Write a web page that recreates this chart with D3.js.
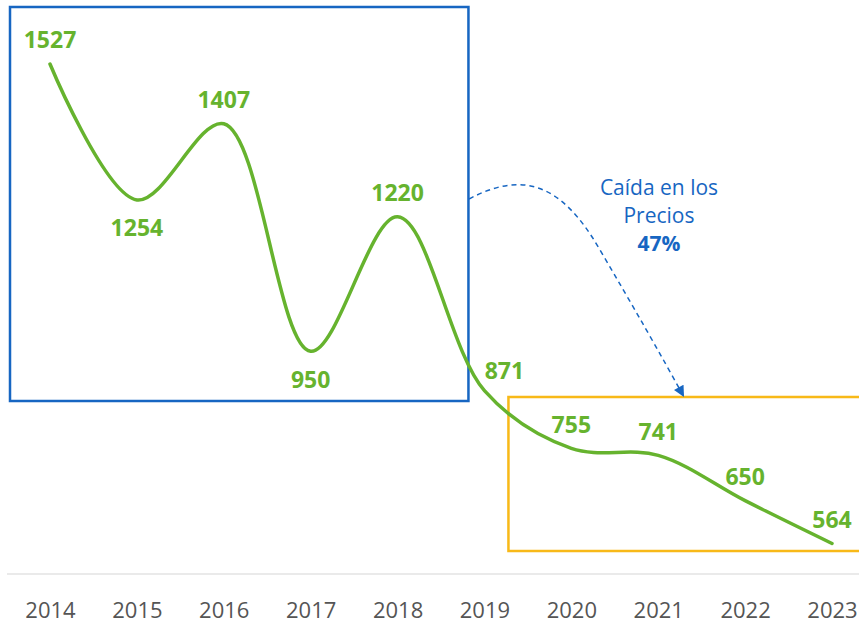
<!DOCTYPE html>
<html>
<head>
<meta charset="utf-8">
<script src="https://cdn.jsdelivr.net/npm/d3@7"></script>
<style>
  body { margin: 0; background: #fff; }
  svg { display: block; font-family: 'Open Sans', 'Noto Sans', sans-serif; }
</style>
</head>
<body>
<div id="chart"></div>
<script>
const years = ['2014', '2015', '2016', '2017', '2018', '2019', '2020', '2021', '2022', '2023']
const prices = [1527, 1254, 1407, 950, 1220, 871, 755, 741, 650, 564]
// label side: -1 above, 1 below, 0 right of the point
const labelSide = [-1, 1, -1, 1, -1, 0, -1, -1, -1, -1]
const noteLines = ['Caída en los', 'Precios']
const noteValue = '47%'

const W = 859, H = 623
const green = '#66b32e', blue = '#1766c2', yellow = '#f8b918'

const svg = d3.select('#chart').append('svg')
  .attr('width', W).attr('height', H)

const x = d3.scalePoint().domain(years).range([50, 832])
const y = d3.scaleLinear().domain([564, 1527]).range([543.5, 64])

// baseline + year axis
const axis = d3.axisBottom(x).tickSize(0).tickPadding(28)
const gx = svg.append('g').attr('transform', 'translate(0,574)').call(axis)
gx.select('.domain').remove()
gx.append('line').attr('x1', 7).attr('x2', W).attr('stroke', '#e3e3e3').attr('stroke-width', 1.5)
gx.selectAll('text')
  .attr('font-size', 22).attr('fill', '#555').attr('font-family', 'Open Sans, sans-serif')

// highlight boxes
svg.append('rect')
  .attr('x', x('2014') - 40).attr('y', 7)
  .attr('width', x('2019') - 16 - (x('2014') - 40)).attr('height', 394)
  .attr('fill', 'none').attr('stroke', blue).attr('stroke-width', 2.5)
svg.append('rect')
  .attr('x', x('2019') + 24).attr('y', 397)
  .attr('width', W - x('2019')).attr('height', 154)
  .attr('fill', 'none').attr('stroke', yellow).attr('stroke-width', 2.5)

// line
const line = d3.line()
  .x((d, i) => x(years[i]))
  .y(d => y(d))
  .curve(d3.curveCatmullRom.alpha(0.5))
svg.append('path')
  .datum(prices)
  .attr('d', line)
  .attr('fill', 'none')
  .attr('stroke', green)
  .attr('stroke-width', 3.5)
  .attr('stroke-linecap', 'round')

// value labels
svg.selectAll('.val')
  .data(prices)
  .join('text')
  .attr('class', 'val')
  .attr('x', (d, i) => x(years[i]) + (labelSide[i] === 0 ? 20 : 0))
  .attr('y', (d, i) => labelSide[i] === 0 ? y(d) - 20 : y(d) + (labelSide[i] < 0 ? -24 : 28))
  .attr('dy', '0.36em')
  .attr('text-anchor', 'middle')
  .attr('font-size', 23)
  .attr('font-weight', 700)
  .attr('fill', green)
  .text(d => d)

// dashed arrow between the boxes
svg.append('defs').append('marker')
  .attr('id', 'tip')
  .attr('viewBox', '0 0 10 10')
  .attr('refX', 10).attr('refY', 5)
  .attr('markerWidth', 12).attr('markerHeight', 11)
  .attr('markerUnits', 'userSpaceOnUse')
  .attr('orient', 'auto')
  .append('path').attr('d', 'M0,0 L10,5 L0,10 Z').attr('fill', blue)

const arrow = d3.path()
arrow.moveTo(469, 199)
arrow.bezierCurveTo(520, 172, 560, 180, 600, 250)
arrow.quadraticCurveTo(650, 335, 684, 397)
svg.append('path')
  .attr('d', arrow.toString())
  .attr('fill', 'none')
  .attr('stroke', blue)
  .attr('stroke-width', 1.5)
  .attr('stroke-dasharray', '5,4')
  .attr('marker-end', 'url(#tip)')

const note = svg.append('text')
  .attr('text-anchor', 'middle')
  .attr('fill', blue)
  .attr('font-size', 21)
note.selectAll('tspan')
  .data(noteLines)
  .join('tspan')
  .attr('x', 659)
  .attr('y', (d, i) => 195 + i * 28)
  .text(d => d)
note.append('tspan')
  .attr('x', 659).attr('y', 251)
  .attr('font-weight', 700)
  .text(noteValue)
</script>
</body>
</html>
